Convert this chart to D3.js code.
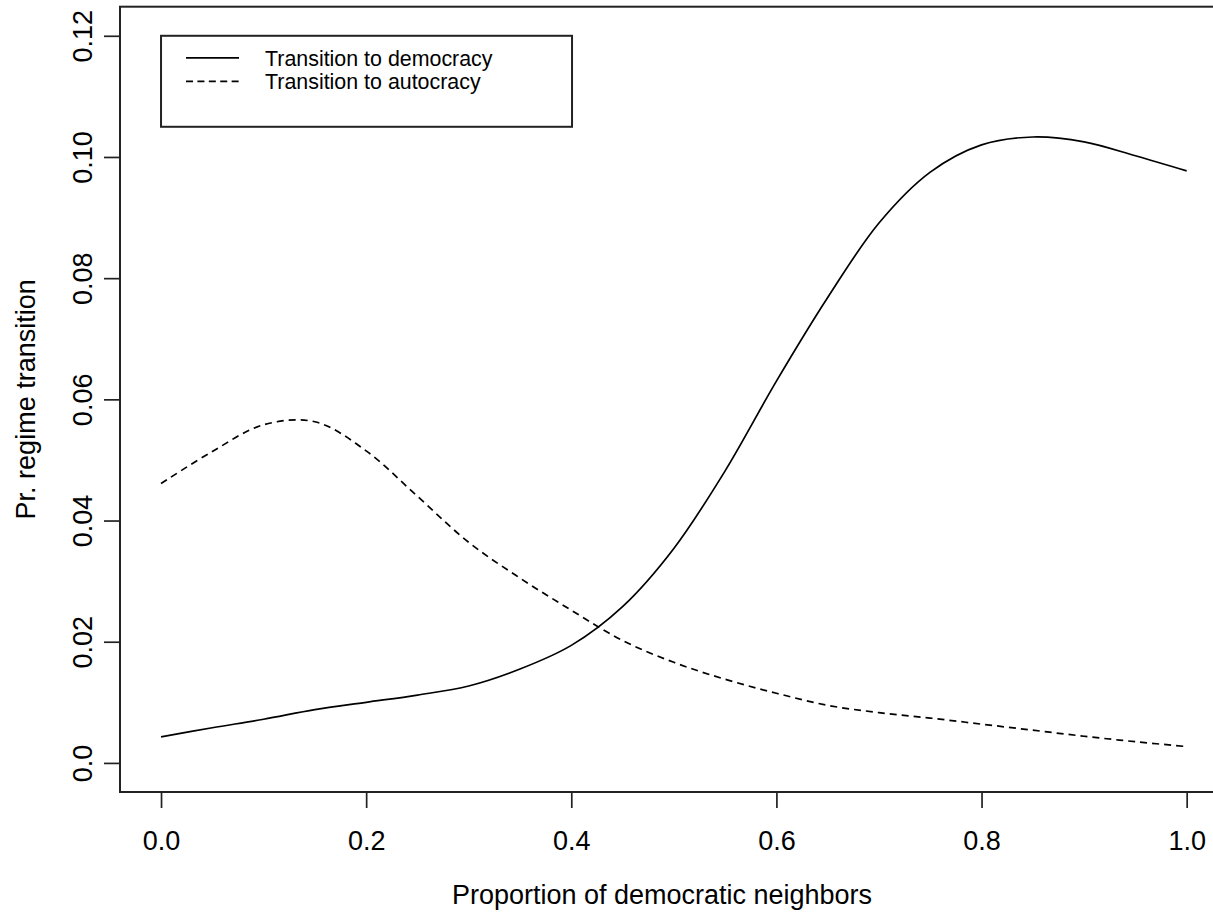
<!DOCTYPE html>
<html>
<head>
<meta charset="utf-8">
<script src="https://cdn.jsdelivr.net/npm/d3@7"></script>
<style>
  body { margin: 0; background: #fff; }
  text { font-family: "Liberation Sans", Arial, Helvetica, sans-serif; fill: #000; }
</style>
</head>
<body>
<script>
// values
var xVals = [0, 0.05, 0.10, 0.15, 0.20, 0.25, 0.30, 0.35, 0.40, 0.45, 0.50,
             0.55, 0.60, 0.65, 0.70, 0.75, 0.80, 0.85, 0.90, 0.95, 1.00];
var democracy = [0.0043, 0.0058, 0.0072, 0.0088, 0.0100, 0.0112, 0.0127, 0.0155, 0.0194, 0.0258, 0.0354,
                 0.0482, 0.0630, 0.0768, 0.0891, 0.0975, 0.1020, 0.1033, 0.1025, 0.1002, 0.0977];
var autocracy = [0.0461, 0.0514, 0.0558, 0.0563, 0.0515, 0.0440, 0.0364, 0.0305, 0.0252, 0.0202, 0.0166,
                 0.0138, 0.0115, 0.0095, 0.0083, 0.0074, 0.0064, 0.0054, 0.0044, 0.0035, 0.0027];
var xTicks = [0, 0.2, 0.4, 0.6, 0.8, 1.0];
var yTicks = [0, 0.02, 0.04, 0.06, 0.08, 0.10, 0.12];
var yTickLabels = ["0.0", "0.02", "0.04", "0.06", "0.08", "0.10", "0.12"];
var legendLabels = ["Transition to democracy", "Transition to autocracy"];

var W = 1213, H = 914;
// plot region (right edge runs past the picture, as in the reference)
var plotL = 120, plotR = 1227.7, plotT = 6.7, plotB = 792;

var svg = d3.select("body").append("svg")
    .attr("width", W)
    .attr("height", H);

svg.append("rect").attr("width", W).attr("height", H).attr("fill", "#fff");

// R style: 4% padding on both ends
var x = d3.scaleLinear().domain([-0.04, 1.04]).range([plotL, plotR]);
var y = d3.scaleLinear().domain([-0.0048, 0.1248]).range([plotB, plotT]);

// x axis
var gx = svg.append("g")
    .attr("transform", "translate(0," + plotB + ")")
    .call(d3.axisBottom(x).tickValues(xTicks).tickSize(16).tickFormat(d3.format(".1f")));
gx.select(".domain").remove();
gx.selectAll("line").attr("stroke", "#222").attr("stroke-width", 1.7);
gx.selectAll("text")
    .attr("y", 58).attr("dy", null)
    .attr("font-size", 27)
    .attr("font-family", null);

// y axis, labels turned like R's las=0
var gy = svg.append("g")
    .attr("transform", "translate(" + plotL + ",0)")
    .call(d3.axisLeft(y).tickValues(yTicks).tickSize(16)
        .tickFormat(function(d, i) { return yTickLabels[i]; }));
gy.select(".domain").remove();
gy.selectAll("line").attr("stroke", "#222").attr("stroke-width", 1.7);
gy.selectAll("text")
    .attr("x", null).attr("dy", null)
    .attr("text-anchor", "middle")
    .attr("transform", "translate(-28,0) rotate(-90)")
    .attr("font-size", 27)
    .attr("font-family", null);

// plot box
svg.append("rect")
    .attr("x", plotL).attr("y", plotT)
    .attr("width", plotR - plotL).attr("height", plotB - plotT)
    .attr("fill", "none")
    .attr("stroke", "#222")
    .attr("stroke-width", 2);

var line = d3.line()
    .x(function(d, i) { return x(xVals[i]); })
    .y(function(d) { return y(d); })
    .curve(d3.curveCatmullRom.alpha(0.5));

svg.append("path")
    .datum(democracy)
    .attr("d", line)
    .attr("fill", "none")
    .attr("stroke", "#000")
    .attr("stroke-width", 1.7);

svg.append("path")
    .datum(autocracy)
    .attr("d", line)
    .attr("fill", "none")
    .attr("stroke", "#000")
    .attr("stroke-width", 1.7)
    .attr("stroke-dasharray", "7,5");

// axis titles
svg.append("text")
    .attr("x", 662)
    .attr("y", 904)
    .attr("text-anchor", "middle")
    .attr("font-size", 27)
    .text("Proportion of democratic neighbors");

svg.append("text")
    .attr("transform", "translate(35," + ((plotT + plotB) / 2) + ") rotate(-90)")
    .attr("text-anchor", "middle")
    .attr("font-size", 27)
    .text("Pr. regime transition");

// legend, top left at (0, 0.12)
var lx = x(0), ly = y(0.12);
var legend = svg.append("g");
legend.append("rect")
    .attr("x", lx).attr("y", ly)
    .attr("width", 411).attr("height", 91)
    .attr("fill", "#fff")
    .attr("stroke", "#222")
    .attr("stroke-width", 2);

var rows = legend.selectAll("g.row")
    .data(legendLabels)
    .enter().append("g")
    .attr("class", "row")
    .attr("transform", function(d, i) { return "translate(" + lx + "," + (ly + 22 + i * 23.5) + ")"; });

rows.append("line")
    .attr("x1", 25).attr("x2", 78)
    .attr("stroke", "#000")
    .attr("stroke-width", 1.7)
    .attr("stroke-dasharray", function(d, i) { return i ? "7,4.4" : null; });

rows.append("text")
    .attr("x", 104)
    .attr("dy", "0.36em")
    .attr("font-size", 21.4)
    .text(function(d) { return d; });
</script>
</body>
</html>
